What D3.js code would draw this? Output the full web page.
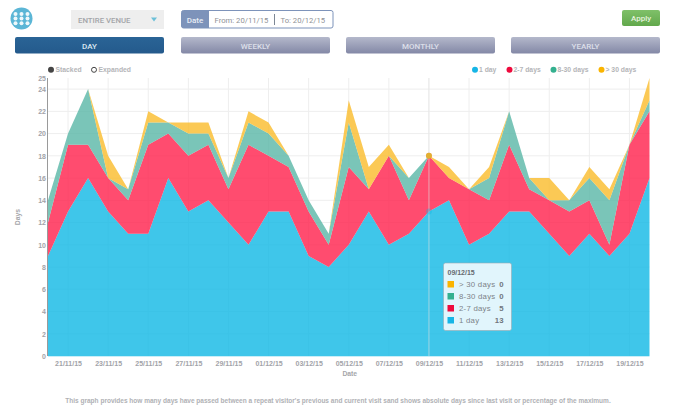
<!DOCTYPE html>
<html>
<head>
<meta charset="utf-8">
<script src="https://d3js.org/d3.v7.min.js"></script>
<style>
  html, body { margin: 0; padding: 0; background: #fff; }
  text { font-family: "Liberation Sans", Arial, sans-serif; }
  .axis text { fill: #a2a3a8; font-size: 7px; font-weight: bold; font-family: "Liberation Sans", Arial, sans-serif; }
  .axis path, .axis line { display: none; }
  .grid line { stroke: #eeeeee; stroke-width: 1; }
  .ui { font-family: Roboto, "Liberation Sans", sans-serif; }
</style>
</head>
<body>
<div id="chart"></div>
<script>
var svgWidth = 680;
var svgHeight = 415;

var dates = ["20/11/15","21/11/15","22/11/15","23/11/15","24/11/15","25/11/15","26/11/15","27/11/15",
  "28/11/15","29/11/15","30/11/15","01/12/15","02/12/15","03/12/15","04/12/15","05/12/15","06/12/15",
  "07/12/15","08/12/15","09/12/15","10/12/15","11/12/15","12/12/15","13/12/15","14/12/15","15/12/15",
  "16/12/15","17/12/15","18/12/15","19/12/15","20/12/15"];

// bottom series first
var oneDay = [9,13,16,13,11,11,16,13,14,12,10,13,13,9,8,10,13,10,11,13,14,10,11,13,13,11,9,11,9,11,16];
var twoToSeven = [3,6,3,3,3,8,4,5,5,3,9,5,4,4,2,7,2,8,3,5,2,5,3,6,2,3,4,3,1,8,6];
var eightToThirty = [2,1,5,0,1,2,1,2,1,1,2,2,1,1,1,4,0,0,2,0,0,0,2,3,1,0,1,2,4,0,1];
var overThirty = [0,0,0,2,0,1,0,1,1,0,1,1,0,0,0,2,2,1,0,0,1,0,1,0,0,2,0,1,1,0,2];

var seriesNames = ["1 day", "2-7 days", "8-30 days", "> 30 days"];
var seriesValues = [oneDay, twoToSeven, eightToThirty, overThirty];
var areaColors = ["#0fb8e5", "#ff1f4b", "#59b6a6", "#fabb2a"];
var legendColors = ["#16b5e6", "#ee0a3d", "#34b08f", "#fab400"];

var yTicks = [0,2,4,6,8,10,12,14,16,18,20,22,24,25];
var yGrid = [2,4,6,8,10,12,14,16,18,20,22,24];
var xTicks = dates.filter((d, i) => i % 2 === 1);
var hoverDate = "09/12/15";

var periods = ["DAY", "WEEKLY", "MONTHLY", "YEARLY"];
var periodX = [15, 181, 346, 511];

var margin = { top: 78, right: 30.5, bottom: 59, left: 48 };
var width = svgWidth - margin.left - margin.right;
var height = svgHeight - margin.top - margin.bottom;

var svg = d3.select("#chart").append("svg")
  .attr("width", svgWidth)
  .attr("height", svgHeight)
  .style("display", "block");

var defs = svg.append("defs");
function vGrad(id, top, bottom) {
  var g = defs.append("linearGradient").attr("id", id)
    .attr("x1", 0).attr("x2", 0).attr("y1", 0).attr("y2", 1);
  g.append("stop").attr("offset", "0%").attr("stop-color", top);
  g.append("stop").attr("offset", "100%").attr("stop-color", bottom);
}
vGrad("gradOff", "#b4b8cb", "#8388a6");
vGrad("gradOn", "#2a6496", "#245a8c");
vGrad("gradApply", "#7fc069", "#62a84c");

// header controls
var iconGroup = svg.append("g");
iconGroup.append("circle").attr("cx", 21.5).attr("cy", 18.5).attr("r", 11).attr("fill", "#5bb6d6");
d3.range(3).forEach(r => d3.range(3).forEach(c => {
  iconGroup.append("circle")
    .attr("cx", 15.5 + c * 6).attr("cy", 14 + r * 4.6).attr("r", 2).attr("fill", "#eef8fb");
}));

svg.append("rect").attr("x", 71).attr("y", 10).attr("width", 93).attr("height", 19).attr("fill", "#eeeeee");
svg.append("text").attr("class", "ui").attr("x", 78).attr("y", 22.5)
  .attr("font-size", 7.8).attr("font-weight", 500).attr("fill", "#a3a5a9").style("font-family", "Roboto").text("ENTIRE VENUE");
svg.append("path").attr("d", "M151 17.5h6l-3 4z").attr("fill", "#6cc0d8");

svg.append("rect").attr("x", 181.5).attr("y", 10.5).attr("width", 151.5).attr("height", 17.5).attr("rx", 2)
  .attr("fill", "#fff").attr("stroke", "#7d93ba");
svg.append("path").attr("d", "M183.5 10.5H209V28H183.5a2 2 0 0 1-2-2V12.5a2 2 0 0 1 2-2z").attr("fill", "#7d93ba");
svg.append("text").attr("x", 195).attr("y", 22.5).attr("text-anchor", "middle")
  .attr("font-size", 8).attr("font-weight", 500).attr("fill", "#e8edf5").style("font-family", "Roboto").text("Date");
svg.append("text").attr("x", 214.5).attr("y", 22.5).attr("font-size", 7.7).attr("fill", "#8f9196")
  .style("font-family", "Roboto").text("From: 20/11/15");
svg.append("line").attr("x1", 274.5).attr("x2", 274.5).attr("y1", 14).attr("y2", 25).attr("stroke", "#7d8795");
svg.append("text").attr("x", 280.5).attr("y", 22.5).attr("font-size", 7.7).attr("fill", "#8f9196")
  .style("font-family", "Roboto").text("To: 20/12/15");

svg.append("rect").attr("x", 622).attr("y", 10).attr("width", 38).attr("height", 16).attr("rx", 2).attr("fill", "url(#gradApply)");
svg.append("text").attr("x", 641).attr("y", 21).attr("text-anchor", "middle")
  .attr("font-size", 8).attr("font-weight", 500).attr("fill", "#e6f3df").style("font-family", "Roboto").text("Apply");

// period tabs
periods.forEach((p, i) => {
  svg.append("rect").attr("x", periodX[i]).attr("y", 37).attr("width", 149).attr("height", 16.5).attr("rx", 2)
    .attr("fill", i === 0 ? "url(#gradOn)" : "url(#gradOff)");
  svg.append("text").attr("x", periodX[i] + 74.5).attr("y", 48.5).attr("text-anchor", "middle")
    .attr("font-size", 8).attr("font-weight", 500)
    .attr("fill", i === 0 ? "#dbe8f3" : "#dcdfe9").style("font-family", "Roboto").text(p);
});

// chart
var x = d3.scalePoint().domain(dates).range([0, width]);
var y = d3.scaleLinear().domain([0, 25]).range([height, 0]);

var chartGroup = svg.append("g").attr("transform", `translate(${margin.left}, ${margin.top})`);

var grid = chartGroup.append("g").attr("class", "grid");
grid.selectAll(".h").data(yGrid).enter().append("line")
  .attr("x1", 0).attr("x2", width).attr("y1", d => y(d)).attr("y2", d => y(d));
grid.selectAll(".v").data(xTicks).enter().append("line")
  .attr("x1", d => x(d)).attr("x2", d => x(d)).attr("y1", 0).attr("y2", height);

var table = dates.map((d, i) => {
  var row = { date: d };
  seriesNames.forEach((n, s) => { row[n] = seriesValues[s][i]; });
  return row;
});
var stacked = d3.stack().keys(seriesNames)(table);

var area = d3.area()
  .x(d => x(d.data.date))
  .y0(d => y(d[0]))
  .y1(d => y(d[1]));

chartGroup.selectAll(".layer").data(stacked).enter().append("path")
  .attr("class", "layer")
  .attr("d", area)
  .attr("fill", (d, i) => areaColors[i])
  .attr("fill-opacity", 0.8);

// y axis rule and baseline
chartGroup.append("line").attr("x1", -0.5).attr("x2", -0.5).attr("y1", 0).attr("y2", height).attr("stroke", "#9a9a9a");
chartGroup.append("line").attr("x1", 0).attr("x2", width).attr("y1", height + 0.5).attr("y2", height + 0.5).attr("stroke", "#c9eef8");

chartGroup.append("g").attr("class", "axis")
  .call(d3.axisLeft(y).tickValues(yTicks).tickFormat(d3.format("d")).tickSize(0).tickPadding(2));
chartGroup.append("g").attr("class", "axis")
  .attr("transform", `translate(0, ${height})`)
  .call(d3.axisBottom(x).tickValues(xTicks).tickSize(0).tickPadding(5));

chartGroup.append("text").attr("transform", `translate(-28, ${y(12.5)}) rotate(-90)`)
  .attr("text-anchor", "middle").attr("font-size", 6.8).attr("font-weight", "bold").attr("fill", "#a5a6aa").text("Days");
chartGroup.append("text").attr("x", x("05/12/15") + 1).attr("y", height + 20)
  .attr("text-anchor", "middle").attr("font-size", 6.8).attr("font-weight", "bold").attr("fill", "#a5a6aa").text("Date");

// hover guide and points
var hoverIndex = dates.indexOf(hoverDate);
chartGroup.append("line").attr("x1", x(hoverDate)).attr("x2", x(hoverDate)).attr("y1", 0).attr("y2", height)
  .attr("stroke", "#e3e3e3").attr("stroke-opacity", 0.6);
stacked.forEach((s, i) => {
  if (seriesValues[i][hoverIndex] === 0 && i < 3) return;
  chartGroup.append("circle").attr("cx", x(hoverDate)).attr("cy", y(s[hoverIndex][1])).attr("r", 3)
    .attr("fill", i === 3 ? "#e2b030" : areaColors[i]).attr("fill-opacity", i === 3 ? 1 : 0.35);
});

// legends
var modeLabels = ["Stacked", "Expanded"];
var modeX = [51, 94];
modeLabels.forEach((m, i) => {
  svg.append("circle").attr("cx", modeX[i]).attr("cy", 69.8).attr("r", i === 0 ? 3 : 2.5)
    .attr("fill", i === 0 ? "#444" : "#fff").attr("stroke", "#444").attr("stroke-width", i === 0 ? 0 : 1);
  svg.append("text").attr("x", modeX[i] + 4.5).attr("y", 72.3)
    .attr("font-size", 6.8).attr("font-weight", "bold").attr("fill", "#b4b5b8").text(m);
});

var legendX = [475, 509.5, 553.5, 601.5];
seriesNames.forEach((n, i) => {
  svg.append("circle").attr("cx", legendX[i]).attr("cy", 69.8).attr("r", 3).attr("fill", legendColors[i]);
  svg.append("text").attr("x", legendX[i] + 4).attr("y", 72.3)
    .attr("font-size", 6.8).attr("font-weight", "bold").attr("fill", "#b4b5b8").text(n);
});

// tooltip
var tip = svg.append("g").attr("transform", "translate(443.5, 263)");
tip.append("rect").attr("width", 68).attr("height", 67.5).attr("rx", 2)
  .attr("fill", "#e1f5fc").attr("stroke", "#9aa9b2").attr("stroke-width", 0.6);
tip.append("text").attr("x", 4).attr("y", 12).attr("font-size", 7).attr("font-weight", "bold").attr("fill", "#666a70").text(hoverDate);
[3, 2, 1, 0].forEach((s, r) => {
  var rowY = 18 + r * 12;
  tip.append("rect").attr("x", 4).attr("y", rowY).attr("width", 6.5).attr("height", 6.5).attr("fill", legendColors[s]);
  tip.append("text").attr("x", 15.5).attr("y", rowY + 6).attr("font-size", 7.8).attr("letter-spacing", 0.25).attr("fill", "#7d8388").text(seriesNames[s]);
  tip.append("text").attr("x", 60).attr("y", rowY + 6).attr("text-anchor", "end")
    .attr("font-size", 7.8).attr("font-weight", "bold").attr("fill", "#70767c").text(seriesValues[s][hoverIndex]);
});

// footer
svg.append("text").attr("x", 338).attr("y", 403).attr("text-anchor", "middle")
  .attr("font-size", 6.53).attr("font-weight", "bold").attr("fill", "#b0b1b5")
  .text("This graph provides how many days have passed between a repeat visitor's previous and current visit sand shows absolute days since last visit or percentage of the maximum.");
</script>
</body>
</html>
